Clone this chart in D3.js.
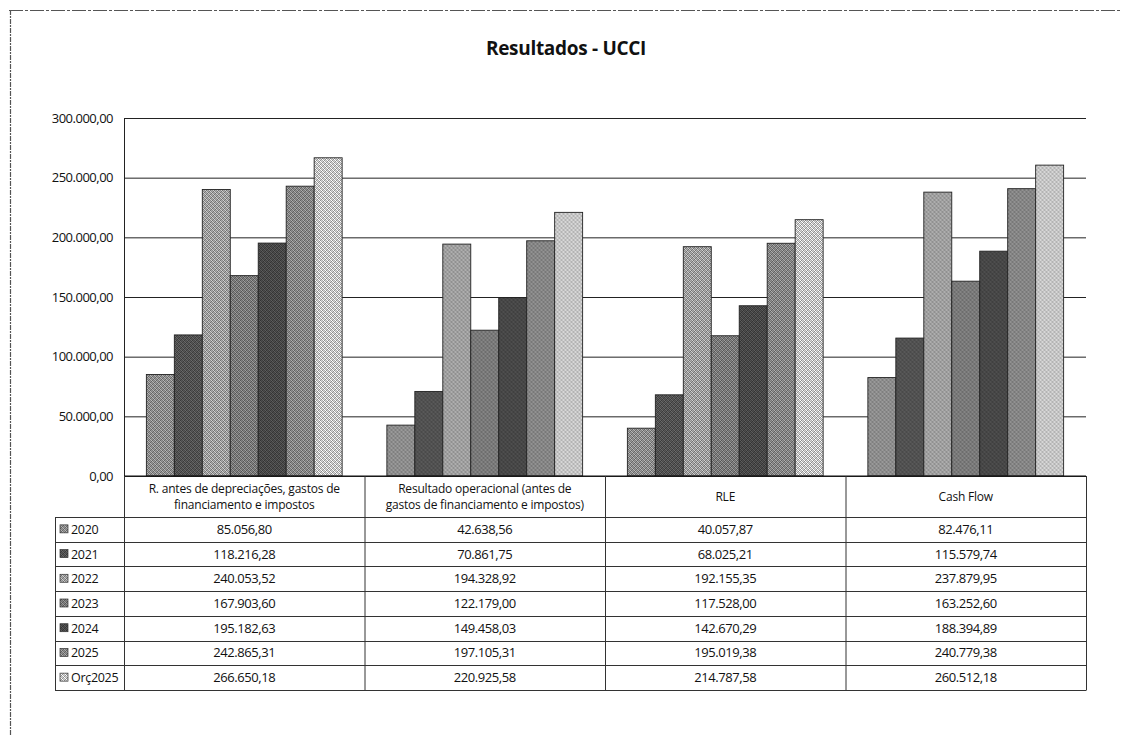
<!DOCTYPE html>
<html><head><meta charset="utf-8">
<script src="https://cdn.jsdelivr.net/npm/d3@7"></script>
<style>
html,body{margin:0;padding:0;background:#fff;}
svg{display:block;}
text{font-family:"Open Sans","Noto Sans",sans-serif;fill:#111;}
</style></head><body>
<svg id="chart" width="1121" height="735"></svg>
<script>
const title = "Resultados - UCCI";
const categories = [
  "R. antes de depreciações, gastos de\nfinanciamento e impostos",
  "Resultado operacional (antes de\ngastos de financiamento e impostos)",
  "RLE",
  "Cash Flow"
];
const series = ["2020","2021","2022","2023","2024","2025","Orç2025"];
const v2020 = [85056.80, 42638.56, 40057.87, 82476.11];
const v2021 = [118216.28, 70861.75, 68025.21, 115579.74];
const v2022 = [240053.52, 194328.92, 192155.35, 237879.95];
const v2023 = [167903.60, 122179.00, 117528.00, 163252.60];
const v2024 = [195182.63, 149458.03, 142670.29, 188394.89];
const v2025 = [242865.31, 197105.31, 195019.38, 240779.38];
const vOrc2025 = [266650.18, 220925.58, 214787.58, 260512.18];
const yTicks = [0, 50000, 100000, 150000, 200000, 250000, 300000];
const seriesColors = ["#8a8a8a","#505050","#9c9c9c","#777777","#464646","#838383","#c2c2c2"];

const values = [v2020, v2021, v2022, v2023, v2024, v2025, vOrc2025];

(function(){
const locale = d3.formatLocale({decimal:",", thousands:".", grouping:[3], currency:["",""]});
const fmt = locale.format(",.2f");

const svg = d3.select("#chart");

// scanned-print dither texture for each series (fixed 4x4 tile, no randomness)
const tile = [
  [0,2,1,3],
  [3,1,2,0],
  [1,3,0,2],
  [2,0,3,1]
];
const defs = svg.append("defs");
seriesColors.forEach((c, i) => {
  const base = d3.color(c);
  const tones = [base.darker(0.9), base.darker(0.3), base.brighter(0.3), base.brighter(0.8)];
  const p = defs.append("pattern").attr("id","pat"+i).attr("patternUnits","userSpaceOnUse")
    .attr("width",4).attr("height",4);
  tile.forEach((row, r) => row.forEach((t, k) => {
    p.append("rect").attr("x",k).attr("y",r).attr("width",1).attr("height",1).attr("fill",tones[t]);
  }));
});

// outer frame
svg.append("line").attr("x1",9).attr("x2",1121).attr("y1",10.5).attr("y2",10.5).attr("stroke","#555").attr("stroke-width",1.2).attr("stroke-dasharray","14 2 3 2");
svg.append("line").attr("x1",10.5).attr("x2",10.5).attr("y1",10).attr("y2",735).attr("stroke","#555").attr("stroke-width",1.2).attr("stroke-dasharray","5 1 2 1");

svg.append("text").attr("x",566).attr("y",55).attr("text-anchor","middle")
  .style("font-size","19px").style("font-weight","700").attr("letter-spacing","-0.3").text(title);

const pLeft = 124, pRight = 1086, pTop = 118, pBottom = 476;
const y = d3.scaleLinear().domain([0,300000]).range([pBottom, pTop]);
const x0 = d3.scaleBand().domain(categories).range([pLeft, pRight]).padding(0);
const x1 = d3.scaleBand().domain(series).range([0, x0.bandwidth()]).paddingInner(0).paddingOuter(0.8);
const fillOf = d3.scaleOrdinal().domain(series).range(seriesColors.map((c,i) => `url(#pat${i})`));

// gridlines + y labels via axis
const yAxis = d3.axisLeft(y).tickValues(yTicks).tickSize(-(pRight-pLeft)).tickFormat(d => fmt(d)).tickPadding(11);
const gy = svg.append("g").attr("transform",`translate(${pLeft},0)`).call(yAxis);
gy.select(".domain").attr("stroke","#222");
gy.selectAll(".tick line").attr("stroke","#222").attr("stroke-width",1);
gy.selectAll(".tick text").style("font-size","13px").attr("fill","#111")
  .style("font-family","'Open Sans','Noto Sans',sans-serif").attr("letter-spacing","-0.5");

// bars
const groups = svg.append("g").selectAll("g").data(categories).join("g")
  .attr("transform", c => `translate(${x0(c)},0)`);
groups.selectAll("rect").data((c,ci) => series.map((s,si) => ({s, v: values[si][ci]}))).join("rect")
  .attr("x", d => x1(d.s)).attr("width", x1.bandwidth())
  .attr("y", d => y(d.v)).attr("height", d => y(0) - y(d.v))
  .attr("fill", d => fillOf(d.s)).attr("stroke","#222").attr("stroke-width",0.9);

// baseline
svg.append("line").attr("x1",pLeft).attr("x2",pRight).attr("y1",pBottom).attr("y2",pBottom).attr("stroke","#111").attr("stroke-width",1.2);

// data table
const headerBottom = 517, tableBottom = 690, legLeft = 55;
const rowY = d3.scaleBand().domain(series).range([headerBottom, tableBottom]);
const tbl = svg.append("g");
const stroke = "#333";
x0.domain().forEach(c => {
  tbl.append("line").attr("x1",x0(c)+0.5).attr("x2",x0(c)+0.5).attr("y1",pBottom).attr("y2",tableBottom).attr("stroke",stroke);
});
tbl.append("line").attr("x1",pRight+0.5).attr("x2",pRight+0.5).attr("y1",pBottom).attr("y2",tableBottom).attr("stroke",stroke);
tbl.append("line").attr("x1",legLeft+0.5).attr("x2",legLeft+0.5).attr("y1",headerBottom).attr("y2",tableBottom).attr("stroke",stroke);
series.forEach(s => {
  tbl.append("line").attr("x1",legLeft).attr("x2",pRight+0.5).attr("y1",Math.round(rowY(s))+0.5).attr("y2",Math.round(rowY(s))+0.5).attr("stroke",stroke);
});
tbl.append("line").attr("x1",legLeft).attr("x2",pRight+0.5).attr("y1",tableBottom+0.5).attr("y2",tableBottom+0.5).attr("stroke",stroke);

// header labels
categories.forEach(c => {
  const lines = c.split("\n");
  const cx = x0(c) + x0.bandwidth()/2;
  const cy = (pBottom + headerBottom)/2;
  const lh = 16;
  lines.forEach((ln,i) => {
    tbl.append("text").attr("x",cx).attr("y", cy + (i - (lines.length-1)/2)*lh + 4)
      .attr("text-anchor","middle").style("font-size","12px").attr("letter-spacing","-0.2").text(ln);
  });
});

// rows
series.forEach((s,si) => {
  const ry = rowY(s) + rowY.bandwidth()/2 + 4.5;
  tbl.append("rect").attr("x",60).attr("y",ry-9).attr("width",8).attr("height",8)
    .attr("fill",fillOf(s)).attr("stroke","#333").attr("stroke-width",0.7);
  tbl.append("text").attr("x",71).attr("y",ry).style("font-size","12.5px").attr("letter-spacing","-0.3").text(s);
  categories.forEach((c,ci) => {
    tbl.append("text").attr("x", x0(c)+x0.bandwidth()/2).attr("y",ry).attr("text-anchor","middle")
      .style("font-size","13px").attr("letter-spacing","-0.4").text(fmt(values[si][ci]));
  });
});
})();
</script>
</body></html>
